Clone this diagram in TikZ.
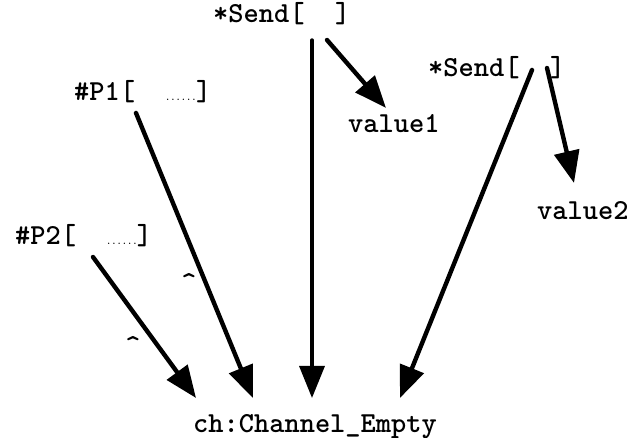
\documentclass[tikz,border=0pt]{standalone}
\usepackage{fontspec}
\usetikzlibrary{arrows.meta}
\tikzset{
  lbl/.style={anchor=base west, inner sep=0pt, font=\ttfamily\bfseries\fontsize{29}{29}\selectfont},
  caretlbl/.style={anchor=center, inner sep=0pt, font=\ttfamily\bfseries\fontsize{29}{29}\selectfont},
  conn/.style={line width=4.4pt, line cap=round, -{Triangle[length=32pt,width=25pt]}},
}
\newcommand{\smalldots}{\makebox[1.05em][c]{\fontsize{10}{10}\selectfont......}}
\begin{document}
\begin{tikzpicture}[x=1pt,y=-1pt]
\useasboundingbox (0,0) rectangle (643,438);
% labels
\node[lbl] (s1) at (213,23) {*Send[\hspace{1.05em}]};
\node[lbl] (s2) at (428,77) {*Send[\hspace{1.05em}]};
\node[lbl] (p1) at (74,101) {\#P1[\hspace{1.05em}\smalldots]};
\node[lbl] (p2) at (15,245) {\#P2[\hspace{1.05em}\smalldots]};
\node[lbl] (v1) at (348,133) {value1};
\node[lbl] (v2) at (537,220) {value2};
\node[lbl] (ch) at (193,432) {ch:Channel\_Empty};
\node[caretlbl] (c1) at (189,282) {\textasciicircum};
\node[caretlbl] (c2) at (133,345) {\textasciicircum};
% connector ends
\coordinate (s1a) at (312,40);
\coordinate (s1b) at (327,40);
\coordinate (s2a) at (532,70);
\coordinate (s2b) at (547,68);
\coordinate (p1a) at (136,113);
\coordinate (p2a) at (93,257);
\coordinate (t1) at (196,398);
\coordinate (t2) at (253,398);
\coordinate (t3) at (312,398);
\coordinate (t4) at (400,398);
\coordinate (tv1) at (386,108);
\coordinate (tv2) at (574,183);
% connectors
\draw[conn, line width=3.4pt] (s1a) -- (t3);
\draw[conn] (s1b) -- (tv1);
\draw[conn] (s2a) -- (t4);
\draw[conn] (s2b) -- (tv2);
\draw[conn] (p1a) -- (t2);
\draw[conn] (p2a) -- (t1);
\end{tikzpicture}
\end{document}
